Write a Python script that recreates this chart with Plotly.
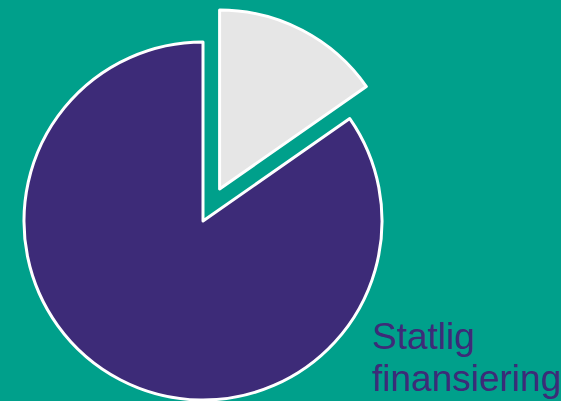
import plotly.graph_objects as go

labels = ["Annen finansiering", "Statlig finansiering"]
values = [15.3, 84.7]
colors = ["#E6E6E6", "#3D2B78"]
label_lines = ["Statlig", "finansiering"]

W, H = 561, 401
bg = "#00A08B"

# pie geometry (pixels)
cx, cy, r = 203, 221, 179
off_x, off_y = 16.6, -32  # pulled-out offset of the small slice


def dom(cx_, cy_):
    return dict(x=[(cx_ - r) / W, (cx_ + r) / W],
                y=[1 - (cy_ + r) / H, 1 - (cy_ - r) / H])


fig = go.Figure()
# main slice (small slice hidden)
fig.add_trace(go.Pie(
    labels=labels, values=values, sort=False, direction="clockwise",
    marker=dict(colors=["rgba(0,0,0,0)", colors[1]],
                line=dict(color="white", width=[0, 3])),
    textinfo="none", hoverinfo="label+percent", showlegend=False,
    domain=dom(cx, cy)))
# pulled-out small slice
fig.add_trace(go.Pie(
    labels=labels, values=values, sort=False, direction="clockwise",
    marker=dict(colors=[colors[0], "rgba(0,0,0,0)"],
                line=dict(color="white", width=[3, 0])),
    textinfo="none", hoverinfo="label+percent", showlegend=False,
    domain=dom(cx + off_x, cy + off_y)))

font = dict(family="Liberation Sans, Arial", size=37, color=colors[1])
for i, (txt, ypx) in enumerate(zip(label_lines, [336, 378])):
    fig.add_annotation(text=txt, x=370 / W, y=1 - ypx / H, xref="paper", yref="paper",
                       xanchor="left", yanchor="middle", showarrow=False, font=font)

fig.update_layout(width=W, height=H, margin=dict(l=0, r=0, t=0, b=0),
                  paper_bgcolor=bg, plot_bgcolor=bg)
fig.write_html("out.html", config={"displayModeBar": False},
               post_script="document.body.style.margin='0';document.body.style.overflow='hidden';document.body.style.background='%s';" % bg)
